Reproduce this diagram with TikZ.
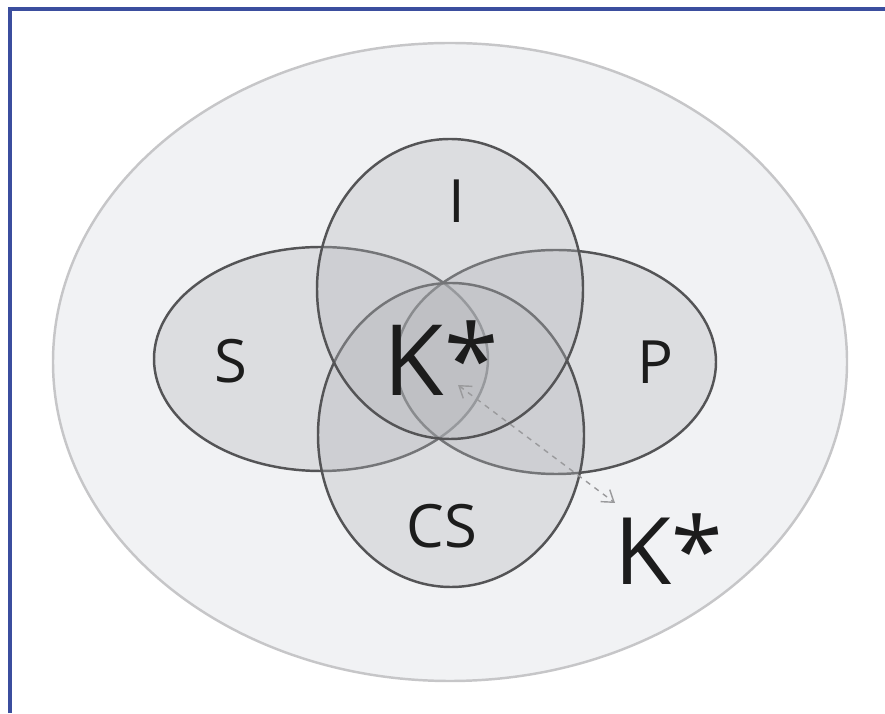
\documentclass[tikz,border=0pt]{standalone}
\usepackage{fontspec}
\setmainfont{Open Sans}
\usepackage{xcolor}
\usepackage{tikz}
\usetikzlibrary{arrows.meta}
\definecolor{FrameBlue}{HTML}{3B4E9E}
\definecolor{UniverseFill}{HTML}{F1F2F4}
\definecolor{UniverseLine}{HTML}{C6C6C8}
\definecolor{SetFill}{HTML}{B4B6BA}
\definecolor{SetLine}{HTML}{545456}
\definecolor{LabelText}{HTML}{1C1C1C}
\definecolor{LinkGray}{HTML}{9A9A9C}

\begin{document}
\begin{tikzpicture}[
  universe/.style={draw=UniverseLine,fill=UniverseFill,line width=1.4pt},
  set/.style={draw=SetLine,fill=SetFill,fill opacity=0.34,line width=1.4pt},
  setlabel/.style={text=LabelText,font=\fontsize{34}{34}\selectfont,inner sep=0pt},
  klabel/.style={text=LabelText,inner sep=0pt},
  link/.style={{Straight Barb[length=2.2mm,width=3mm]}-{Straight Barb[length=2.2mm,width=3mm]},dashed,LinkGray,line width=0.8pt}
]
\useasboundingbox (0,0) rectangle (17.7,14.26);
% frame along the left and top
\draw[FrameBlue,line width=2.4pt] (0.2,0) |- (17.7,14.08);
% the whole space
\draw[universe] (9.0,7.02) ellipse [x radius=7.94,y radius=6.38];
% the four sets, S and P first so I and CS lie on top
\draw[set] (6.42,7.08) ellipse [x radius=3.34,y radius=2.24];
\draw[set] (11.12,7.02) ellipse [x radius=3.2,y radius=2.24];
\draw[set] (9.02,5.56) ellipse [x radius=2.66,y radius=3.04];
\draw[set] (9.0,8.48) ellipse [x radius=2.66,y radius=3.0];
% set names
\node[setlabel] (S) at (4.62,7.04) {S};
\node[setlabel] (I) at (9.14,10.24) {I};
\node[setlabel] (P) at (13.1,7.02) {P};
\node[setlabel] (CS) at (8.84,3.74) {CS};
\node[klabel,font=\fontsize{56}{56}\selectfont] (Kin) at (8.82,7.1) {K*};
\node[klabel,font=\fontsize{53}{53}\selectfont] (Kout) at (13.38,3.28) {K*};
% dashed link between the two K*
\coordinate (tipin) at (9.16,6.56);
\coordinate (tipout) at (12.3,4.2);
\draw[link] (tipin) -- (tipout);
\end{tikzpicture}
\end{document}
